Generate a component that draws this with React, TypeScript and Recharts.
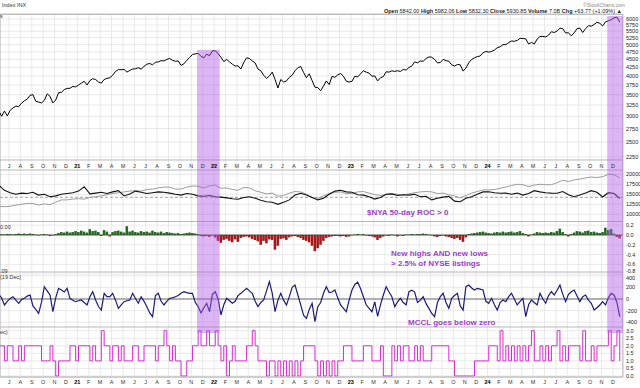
import React from 'react';
import {
  ComposedChart, Line, Bar, Cell, XAxis, YAxis, CartesianGrid, ReferenceLine, ReferenceArea,
} from 'recharts';

// x axis: months since 2020-06-01 (1 = Jul 2020, 7 = Jan 2021, 19 = Jan 2022, 31 = Jan 2023, 43 = Jan 2024, 54 = Dec 2024)
const MONTH_TICKS = Array.from({ length: 54 }, (_, i) => i + 1);
const MONTH_LABELS = [
  'J', 'A', 'S', 'O', 'N', 'D',
  '21', 'F', 'M', 'A', 'M', 'J', 'J', 'A', 'S', 'O', 'N', 'D',
  '22', 'F', 'M', 'A', 'M', 'J', 'J', 'A', 'S', 'O', 'N', 'D',
  '23', 'F', 'M', 'A', 'M', 'J', 'J', 'A', 'S', 'O', 'N', 'D',
  '24', 'F', 'M', 'A', 'M', 'J', 'J', 'A', 'S', 'O', 'N', 'D',
];
const X_DOMAIN = [0.21, 54.88];

// weekly samples: month position = 0.1 + 0.25 * i (Jun 2020 .. 20 Dec 2024)
const WEEK_START = 0.1;
const WEEK_STEP = 0.25;
// semi-monthly samples: month position = 0.1 + 0.5 * i
const SEMI_START = 0.1;
const SEMI_STEP = 0.5;

// S&P 500 ($INX) weekly
const spxClose = [
  3122, 3002, 3115, 3009,
  3130, 3185, 3224, 3215,
  3294, 3351, 3390, 3484,
  3500, 3340, 3320, 3300,
  3360, 3520, 3460, 3300,
  3370, 3550, 3560, 3630,
  3660, 3663, 3710, 3700,
  3750, 3800, 3850, 3750,
  3870, 3920, 3900, 3830,
  3800, 3900, 3930, 3950,
  4020, 4130, 4185, 4180,
  4190, 4110, 4160, 4200,
  4210, 4240, 4200, 4280,
  4350, 4370, 4330, 4410,
  4420, 4460, 4450, 4500,
  4530, 4470, 4440, 4450,
  4310, 4360, 4470, 4560,
  4660, 4680, 4700, 4600,
  4550, 4670, 4620, 4780,
  4790, 4680, 4570, 4430,
  4500, 4420, 4350, 4290,
  4300, 4200, 4400, 4550,
  4530, 4450, 4390, 4200,
  4150, 4020, 3930, 4000,
  4110, 3900, 3670, 3900,
  3830, 3860, 3960, 4020,
  4150, 4240, 4280, 4100,
  3950, 4060, 3870, 3690,
  3680, 3600, 3720, 3860,
  3760, 3990, 3960, 4030,
  4070, 3990, 3850, 3830,
  3850, 3990, 3970, 4060,
  4150, 4110, 4080, 3990,
  4000, 3860, 3950, 3980,
  4120, 4110, 4150, 4130,
  4150, 4130, 4190, 4170,
  4250, 4290, 4420, 4390,
  4450, 4440, 4530, 4580,
  4570, 4500, 4390, 4400,
  4500, 4460, 4440, 4330,
  4290, 4340, 4330, 4140,
  4230, 4390, 4500, 4550,
  4590, 4610, 4720, 4760,
  4740, 4760, 4810, 4890,
  4920, 5000, 5000, 5070,
  5130, 5120, 5150, 5230,
  5220, 5210, 5020, 5080,
  5020, 5200, 5300, 5300,
  5280, 5350, 5480, 5450,
  5510, 5620, 5600, 5430,
  5440, 5320, 5440, 5600,
  5620, 5450, 5600, 5720,
  5700, 5770, 5860, 5820,
  5710, 5880, 5920, 5970,
  6050, 6080, 5870,
];

// New highs AND new lows histogram, weekly
const hiLoHist = [
  0.01, 0.02, 0.01, 0.02,
  0.02, 0.01, 0.02, 0.03,
  0.02, 0.03, 0.02, 0.03,
  0.02, 0.01, -0.01, 0.01,
  0.02, 0.01, -0.02, -0.01,
  0.02, 0.04, 0.06, 0.05,
  0.07, 0.05, 0.06, 0.08,
  0.06, 0.09, 0.07, 0.05,
  0.12, 0.08, 0.09, 0.06,
  -0.02, 0.1, 0.07, -0.03,
  0.06, 0.08, 0.09, 0.07,
  0.05, 0.18, 0.07, 0.09,
  0.06, 0.05, 0.08, 0.06,
  0.07, 0.05, 0.09, 0.06,
  0.05, 0.07, 0.04, 0.06,
  0.05, 0.04, 0.03, 0.04,
  0.02, 0.03, 0.04, 0.05,
  0.04, 0.03, 0.02, -0.02,
  -0.03, -0.02, -0.04, -0.01,
  -0.05, -0.12, -0.16, -0.1,
  -0.08, -0.12, -0.15, -0.09,
  -0.14, -0.06, -0.04, -0.03,
  -0.05, -0.08, -0.1, -0.13,
  -0.2, -0.12, -0.17, -0.09,
  -0.1, -0.3, -0.22, -0.08,
  -0.07, -0.1, -0.05, -0.03,
  -0.02, -0.04, -0.06, -0.1,
  -0.12, -0.15, -0.22, -0.33,
  -0.27, -0.2, -0.12, -0.06,
  -0.04, -0.03, -0.02, -0.02,
  -0.03, -0.02, -0.04, -0.03,
  -0.01, 0.01, 0.02, 0.01,
  0.02, -0.01, -0.02, -0.03,
  -0.05, -0.1, -0.06, -0.03,
  -0.01, -0.02, 0.01, -0.01,
  -0.03, -0.01, -0.02, 0.01,
  0.01, 0.02, 0.01, 0.02,
  0.02, 0.03, 0.02, 0.01,
  -0.01, -0.03, -0.04, -0.02,
  -0.01, -0.03, -0.04, -0.06,
  -0.08, -0.06, -0.1, -0.14,
  -0.05, 0.02, 0.03, 0.04,
  0.05, 0.06, 0.07, 0.05,
  0.04, 0.03, 0.05, 0.06,
  0.05, 0.07, 0.05, 0.06,
  0.07, 0.05, 0.06, 0.08,
  0.04, 0.02, -0.03, 0.01,
  0.03, 0.06, 0.05, 0.04,
  0.05, 0.04, 0.06, 0.05,
  0.08, 0.13, 0.06, 0.02,
  -0.03, 0.02, 0.05, 0.08,
  0.07, 0.05, 0.08, 0.09,
  0.06, 0.07, 0.05, 0.04,
  0.06, 0.15, 0.1, 0.12,
  0.03, -0.04, -0.07,
];

// McClellan oscillator, weekly
const mcclOsc = [
  80, 20, -103, -40,
  10, 40, -20, -74,
  -10, 12, 50, 69,
  -120, -180, -247, -60,
  212, 140, 69, -218,
  20, 184, 155, 120,
  184, 12, -20, -46,
  -30, -17, -60, -103,
  40, 126, -17, -130,
  -190, 98, 40, 40,
  98, -20, -161, -100,
  -46, -30, -17, 98,
  10, -74, 40, -40,
  -132, -240, -305, 60,
  98, -40, -103, -40,
  12, 20, 40, 60,
  100, 126, 110, 98,
  98, -60, -132, -240,
  -150, -74, -218, 80,
  126, 0, -276, -100,
  12, -30, -74, -40,
  60, 98, 140, 184,
  140, 98, -40, -132,
  -60, -17, 140, 298,
  100, -218, -20, 98,
  -20, -103, 40, 200,
  241, 69, -100, -280,
  -333, -180, -74, -391,
  -132, -60, 100, 212,
  110, 120, 155, 20,
  -103, -160, -218, -20,
  155, 250, 290, 180,
  40, -100, -160, -218,
  -50, -300, -100, 69,
  212, 120, 40, -132,
  -50, 12, -60, -103,
  126, 150, 120, -60,
  -20, 40, -80, -161,
  -250, -305, -60, 40,
  98, -60, -161, 12,
  60, 98, -120, -190,
  212, 241, 190, 155,
  184, 170, 155, -40,
  -74, 12, -100, -190,
  -60, -17, -46, 40,
  98, 0, -103, -40,
  12, -305, -100, -17,
  -60, -103, 98, 0,
  -74, 60, 126, 69,
  150, 241, 80, -46,
  80, 126, 155, 50,
  -46, 40, 69, -20,
  -74, -190, -150, -103,
  -46, -103, 20, 98,
  69, -60, -305,
];

// step count panel, weekly
const stepCount = [
  2, 2, 1, 2,
  2, 1, 1, 2,
  1, 2, 2, 2,
  2, 2, 2, 1,
  1, 1, 2, 1,
  0, 1, 1, 1,
  1, 2, 2, 1,
  2, 2, 2, 2,
  1, 2, 1, 1,
  3, 2, 2, 1,
  2, 2, 1, 2,
  1, 1, 1, 2,
  2, 1, 1, 2,
  2, 2, 2, 1,
  2, 2, 3, 2,
  1, 2, 1, 1,
  0, 0, 1, 1,
  2, 2, 3, 2,
  2, 3, 2, 2,
  3, 2, 1, 2,
  0, 1, 2, 1,
  1, 1, 1, 2,
  2, 3, 2, 1,
  1, 1, 0, 1,
  1, 0, 1, 0,
  1, 0, 1, 0,
  1, 0, 1, 2,
  2, 2, 2, 1,
  0, 1, 0, 1,
  0, 1, 0, 1,
  1, 2, 2, 2,
  1, 1, 1, 1,
  2, 2, 2, 1,
  1, 1, 2, 0,
  0, 0, 2, 1,
  2, 1, 2, 2,
  1, 1, 2, 1,
  2, 1, 1, 1,
  2, 2, 2, 2,
  2, 2, 1, 1,
  0, 0, 0, 0,
  0, 0, 0, 1,
  1, 1, 1, 1,
  2, 2, 2, 1,
  3, 1, 2, 1,
  2, 1, 2, 1,
  2, 1, 2, 3,
  1, 1, 2, 1,
  2, 1, 2, 2,
  3, 1, 2, 1,
  2, 2, 2, 2,
  1, 3, 1, 1,
  2, 1, 2, 2,
  2, 2, 3, 1,
  2, 3, 1,
];

// $NYA (grey) semi-monthly
const nyaLine = [
  12000, 11900, 12000, 12300, 12500, 12750, 12700, 12300, 12600, 12400,
  13000, 13600, 13600, 13800, 13900, 13800, 14200, 14400, 14600, 14900,
  15200, 15400, 15600, 15800, 15900, 15800, 16200, 16300, 16600, 16800,
  16800, 16300, 16300, 16800, 17100, 17000, 16600, 17100, 17300, 16500,
  16600, 16200, 16000, 16700, 16600, 15900, 15500, 15100, 15300, 14500,
  14700, 15300, 15700, 15600, 15000, 14200, 14000, 14600, 15200, 15500,
  15600, 15200, 15200, 15600, 15700, 15300, 14900, 14700, 15000, 15100,
  15000, 14800, 15100, 15400, 15600, 15700, 15600, 15200, 15300, 14900,
  14600, 14100, 14700, 15300, 15700, 16100, 16100, 16200, 16500, 16800,
  17200, 17500, 17400, 16900, 17300, 17500, 17400, 17400, 17900, 18500,
  18200, 18600, 18800, 19100, 19300, 19200, 19400, 20000, 19900, 19100,
];

// black overlay line, semi-monthly
const overlayLine = [
  17300, 16000, 15400, 15000, 15300, 15200, 15500, 14800, 15000, 14400,
  14600, 15000, 15200, 15400, 15800, 16900, 15100, 15300, 15500, 15200,
  15600, 15900, 14600, 15100, 15800, 15500, 15200, 15400, 15600, 15500,
  15300, 15000, 14800, 15200, 15000, 14600, 14500, 14700, 14400, 14300,
  14100, 13900, 13750, 14200, 14400, 14000, 13500, 13150, 13000, 12500,
  13000, 13600, 14800, 15250, 14800, 14200, 13600, 14000, 15000, 15800,
  16000, 15600, 15500, 14900, 14800, 14400, 13800, 14200, 15000, 15100,
  14700, 14900, 14800, 15000, 14400, 14500, 13600, 14000, 14300, 14500,
  13300, 13150, 14000, 14400, 15000, 15600, 15650, 15400, 15250, 15300,
  15000, 15300, 14800, 15200, 15900, 15600, 15400, 15300, 15250, 15700,
  14900, 14400, 14800, 15300, 15900, 15500, 14325, 15400, 15200, 14000,
];

// right-hand tick labels
const PRICE_TICKS = [2250, 2500, 2750, 3000, 3250, 3500, 3750, 4000, 4250, 4500, 4750, 5000, 5250, 5500, 5750, 6000];
const NYA_TICKS = [10000, 12500, 15000, 17500, 20000];
const HL_TICKS = [-0.8, -0.6, -0.4, -0.2, 0, 0.2];
const MCCL_TICKS = [-400, -200, 0, 200, 400];
const COUNT_TICKS = [0, 0.5, 1, 1.5, 2, 2.5, 3];

// highlighted periods (month positions)
const BANDS = [
  { from: 17.5, to: 19.49, top: 21.59 },
  { from: 53.5, to: 54.88, top: 23.84 },
];
const BAND_BOTTOM = 2.85;

// stacked panel domains (each panel occupies its own strip of the shared plot)
const PRICE_DOMAIN = [468.5, 6217.5];
const NYA_DOMAIN = [-30675, 60075];
const HL_DOMAIN = [-2.898, 4.51];
const MCCL_DOMAIN = [-1344.8, 4913.8];
const COUNT_DOMAIN = [-0.066, 23.97];

const weeklyRows = spxClose.map((v, i) => ({
  m: WEEK_START + WEEK_STEP * i,
  spx: v,
  hl: hiLoHist[i],
  mccl: mcclOsc[i],
  cnt: stepCount[i],
}));
const semiRows = nyaLine.map((v, i) => ({
  m: SEMI_START + SEMI_STEP * i,
  nya: v,
  ovl: overlayLine[i],
}));

const FONT = '"Liberation Sans", Arial, sans-serif';
const GRID = '#e3e3e3';
const SEP = '#b8b8b8';
const PURPLE = '#9b3fd0';

function DateTick(props: any) {
  const { x, y, payload } = props;
  const label = MONTH_LABELS[payload.value - 1] || '';
  const bold = label.length === 2;
  const common = {
    textAnchor: 'middle' as const,
    dominantBaseline: 'central' as const,
    fontSize: 5.5,
    fontFamily: FONT,
    fontWeight: bold ? 700 : 400,
    fill: bold ? '#000' : '#333',
  };
  return (
    <g>
      <text x={x} y={y - 211.5} {...common}>{label}</text>
      <text x={x} y={y + 4.5} {...common}>{label}</text>
    </g>
  );
}

// right-hand labels; the two labels that meet at the panel 3/4 border are nudged apart
function makeRightTick(decimals: number, nudge: Record<string, number>) {
  return function RightTick(props: any) {
    const { x, y, payload } = props;
    const v = Number(payload.value);
    const txt = decimals > 0 ? v.toFixed(decimals) : String(Math.round(v));
    const dy = nudge[txt] || 0;
    return (
      <text x={x} y={y + dy} dominantBaseline="central" fontSize={5.5} fontFamily={FONT} fill="#222">
        {txt}
      </text>
    );
  };
}
const IntTick = makeRightTick(0, {});
const HlTick = makeRightTick(1, { '-0.8': -3 });
const McclTick = makeRightTick(0, { '400': 2.5 });
const DecTick = makeRightTick(1, {});

const axisCommon = {
  orientation: 'right' as const,
  allowDataOverflow: true,
  interval: 0 as const,
  width: 0.01,
  tickSize: 0,
  tickMargin: 3,
  tickLine: false,
  axisLine: false,
};

export default function App() {
  return (
    <div style={{ position: 'absolute', left: 0, top: 0, width: 640, height: 388, background: '#fff', fontFamily: FONT }}>
      <ComposedChart
        width={640}
        height={388}
        data={weeklyRows}
        margin={{ top: 14, right: 17, bottom: 0, left: 0 }}
      >
        <CartesianGrid yAxisId="p" vertical={false} stroke={GRID} strokeWidth={0.8} />
        <CartesianGrid yAxisId="n" vertical={false} stroke={GRID} strokeWidth={0.8} />
        <CartesianGrid yAxisId="h" vertical={false} stroke={GRID} strokeWidth={0.8} />
        <CartesianGrid yAxisId="o" vertical={false} stroke={GRID} strokeWidth={0.8} />
        <CartesianGrid yAxisId="s" vertical={false} stroke={GRID} strokeWidth={0.8} />
        <CartesianGrid yAxisId="p" horizontal={false} stroke={GRID} strokeWidth={0.8} />

        <XAxis
          dataKey="m"
          type="number"
          domain={X_DOMAIN}
          allowDataOverflow
          ticks={MONTH_TICKS}
          interval={0}
          height={11}
          tickSize={0}
          tickMargin={0}
          tickLine={false}
          axisLine={{ stroke: SEP }}
          tick={<DateTick />}
        />
        <YAxis yAxisId="p" {...axisCommon} scale="log" domain={PRICE_DOMAIN} ticks={PRICE_TICKS} tick={<IntTick />} />
        <YAxis yAxisId="n" {...axisCommon} type="number" domain={NYA_DOMAIN} ticks={NYA_TICKS} tick={<IntTick />} />
        <YAxis yAxisId="h" {...axisCommon} type="number" domain={HL_DOMAIN} ticks={HL_TICKS} tick={<HlTick />} />
        <YAxis yAxisId="o" {...axisCommon} type="number" domain={MCCL_DOMAIN} ticks={MCCL_TICKS} tick={<McclTick />} />
        <YAxis yAxisId="s" {...axisCommon} type="number" domain={COUNT_DOMAIN} ticks={COUNT_TICKS} tick={<DecTick />} />

        {/* panel separators */}
        <ReferenceLine yAxisId="p" y={6200} stroke={SEP} strokeWidth={1} />
        <ReferenceLine yAxisId="p" y={2198} stroke={SEP} strokeWidth={1} />
        <ReferenceLine yAxisId="n" y={21075} stroke={SEP} strokeWidth={1} />
        <ReferenceLine yAxisId="h" y={0.2754} stroke={SEP} strokeWidth={1} />
        <ReferenceLine yAxisId="o" y={465.5} stroke={SEP} strokeWidth={1} />
        <ReferenceLine yAxisId="s" y={3.245} stroke={SEP} strokeWidth={1} />
        <ReferenceLine yAxisId="p" x={0.215} stroke={SEP} strokeWidth={1} />
        <ReferenceLine yAxisId="p" x={54.87} stroke={SEP} strokeWidth={1} />

        {/* panel reference levels */}
        <ReferenceLine yAxisId="n" y={14250} stroke="#8a8a8a" strokeDasharray="3 2" strokeWidth={0.8} />
        <ReferenceLine yAxisId="o" y={0} stroke="#9a9a9a" strokeWidth={1.4} />

        <Bar yAxisId="h" dataKey="hl" barSize={3} isAnimationActive={false}>
          {weeklyRows.map((r, i) => (
            <Cell key={i} fill={r.hl >= 0 ? '#236b23' : '#a81818'} />
          ))}
        </Bar>
        <ReferenceLine yAxisId="h" y={0} stroke="#3a3a2a" strokeWidth={0.8} />

        <Line yAxisId="p" dataKey="spx" type="linear" stroke="#000" strokeWidth={1} dot={false} isAnimationActive={false} />
        <Line yAxisId="n" data={semiRows} dataKey="nya" type="linear" stroke="#9c9c9c" strokeWidth={1} dot={false} isAnimationActive={false} />
        <Line yAxisId="n" data={semiRows} dataKey="ovl" type="linear" stroke="#111" strokeWidth={1.1} dot={false} isAnimationActive={false} />
        <Line yAxisId="o" dataKey="mccl" type="linear" stroke="#1b1b7a" strokeWidth={1.2} dot={false} isAnimationActive={false} />
        <Line yAxisId="s" dataKey="cnt" type="stepAfter" stroke="#d52bd5" strokeWidth={1} dot={false} isAnimationActive={false} />

        {BANDS.map((b, i) => (
          <ReferenceArea
            key={i}
            yAxisId="s"
            x1={b.from}
            x2={b.to}
            y1={BAND_BOTTOM}
            y2={b.top}
            fill="#b25ae6"
            fillOpacity={0.45}
            stroke="none"
            ifOverflow="visible"
            zIndex={1500}
          />
        ))}
      </ComposedChart>

      <svg width={640} height={388} style={{ position: 'absolute', left: 0, top: 0, pointerEvents: 'none' }}>
        <g fontFamily={FONT} dominantBaseline="central">
          <text x={2} y={4.5} fontSize={5.5} fill="#333">Index INX</text>
          <text x={625} y={4.5} fontSize={5} fill="#888" textAnchor="end">©StockCharts.com</text>
          <text x={622} y={10.5} fontSize={5.5} fill="#222" textAnchor="end">
            <tspan fontWeight={700}>Open</tspan> 5842.00 <tspan fontWeight={700}>High</tspan> 5982.06 <tspan fontWeight={700}>Low</tspan> 5832.30 <tspan fontWeight={700}>Close</tspan> 5930.85 <tspan fontWeight={700}>Volume</tspan> 7.0B <tspan fontWeight={700}>Chg</tspan> +63.77 (+1.09%) ▲
          </text>
          <text x={0} y={16} fontSize={5.5} fill="#333">s</text>
          <text x={0} y={226.5} fontSize={5.5} fill="#333">0.00</text>
          <text x={0} y={271} fontSize={5.5} fill="#333">.09</text>
          <text x={0} y={277} fontSize={5.5} fill="#333">(19 Dec)</text>
          <text x={0} y={331.5} fontSize={5.5} fill="#333">ec)</text>
          <g fontSize={8} fontWeight={700} fill={PURPLE}>
            <text x={367} y={212.7}>$NYA 50-day ROC &gt; 0</text>
            <text x={391} y={253.3}>New highs AND new lows</text>
            <text x={391} y={263.3}>&gt; 2.5% of NYSE listings</text>
            <text x={408} y={322}>MCCL goes below zero</text>
          </g>
        </g>
      </svg>
    </div>
  );
}
